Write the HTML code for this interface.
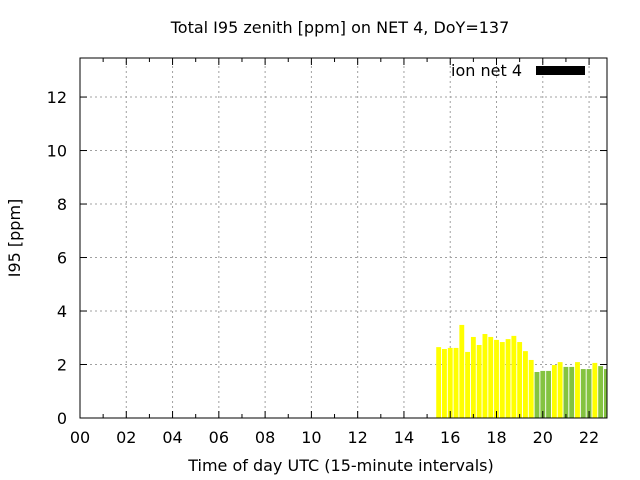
<!DOCTYPE html>
<html><head><meta charset="utf-8"><style>
html,body{margin:0;padding:0;background:#fff;}
svg{display:block;font-family:"DejaVu Sans","Liberation Sans",sans-serif;}
</style></head><body>
<svg id="chart" width="640" height="480" viewBox="0 0 640 480">
<rect x="0" y="0" width="640" height="480" fill="#fff"/>
<text x="340" y="33" font-size="16" text-anchor="middle">Total I95 zenith [ppm] on NET 4, DoY=137</text>
<g id="grid"></g>
<g id="bars"></g>
<g id="axes"></g>
<text x="20" y="238" font-size="16" text-anchor="middle" transform="rotate(-90 20 238)">I95 [ppm]</text>
<text x="341" y="471" font-size="16" text-anchor="middle">Time of day UTC (15-minute intervals)</text>
<g>
<text x="522" y="76" font-size="16" text-anchor="end">ion net 4</text>
<rect x="536" y="66" width="49" height="9" fill="#000"/>
</g>
</svg>
<script>
const hours = [15.5,15.75,16,16.25,16.5,16.75,17,17.25,17.5,17.75,18,18.25,18.5,18.75,19,19.25,19.5,19.75,20,20.25,20.5,20.75,21,21.25,21.5,21.75,22,22.25,22.5,22.75];
const values = [2.65,2.58,2.62,2.62,3.48,2.47,3.03,2.73,3.14,3.03,2.92,2.84,2.95,3.07,2.84,2.50,2.17,1.72,1.76,1.76,1.98,2.09,1.91,1.91,2.09,1.83,1.83,2.06,1.94,1.83];
const colorClass = ['y','y','y','y','y','y','y','y','y','y','y','y','y','y','y','y','y','g','g','g','y','y','g','g','y','g','g','y','g','g'];
const xTicks = ['00','02','04','06','08','10','12','14','16','18','20','22'];
const yTicks = [0,2,4,6,8,10,12];

const X0=80, X1=607, Y0=418, Y1=58;
const xMax=22.775, yMax=13.46;
const xs = h => X0 + h/xMax*(X1-X0);
const ys = v => Y0 - v/yMax*(Y0-Y1);
const NS='http://www.w3.org/2000/svg';
function mk(tag, attrs, parent){const e=document.createElementNS(NS,tag);for(const k in attrs)e.setAttribute(k,attrs[k]);parent.appendChild(e);return e;}
const grid=document.getElementById('grid'), bars=document.getElementById('bars'), axes=document.getElementById('axes');

yTicks.forEach(v=>{
  const y=ys(v);
  if(v>0){const l=mk('line',{x1:X0,x2:X1,y1:y,y2:y,stroke:'#a0a0a0','stroke-dasharray':'2,3'},grid);
  
  }
  mk('line',{x1:X0,x2:X0+7,y1:y,y2:y,stroke:'#000'},axes);
  mk('line',{x1:X1,x2:X1-7,y1:y,y2:y,stroke:'#000'},axes);
  const t=mk('text',{x:X0-13,y:y+6,'font-size':16,'text-anchor':'end'},axes);
  t.textContent=v;
  
  
});
xTicks.forEach(s=>{
  const x=xs(parseInt(s,10));
  if(x>X0){const l=mk('line',{x1:x,x2:x,y1:Y0,y2:Y1,stroke:'#a0a0a0','stroke-dasharray':'2,3'},grid);
  
  }
  mk('line',{x1:x,x2:x,y1:Y0,y2:Y0-7,stroke:'#000'},axes);
  mk('line',{x1:x,x2:x,y1:Y1,y2:Y1+7,stroke:'#000'},axes);
  const t=mk('text',{x:x,y:Y0+25,'font-size':16,'text-anchor':'middle'},axes);
  t.textContent=s;
  
  
});
for(let h=1;h<23;h+=2){const x=xs(h);
  mk('line',{x1:x,x2:x,y1:Y0,y2:Y0-4,stroke:'#000'},axes);
  mk('line',{x1:x,x2:x,y1:Y1,y2:Y1+4,stroke:'#000'},axes);}
const bw=0.21*(X1-X0)/xMax;
hours.forEach((h,i)=>{
  const cx=xs(h); const left=cx-bw/2; const right=Math.min(cx+bw/2,X1);
  const y=ys(values[i]);
  const r=mk('rect',{x:left,y:y,width:Math.max(0,right-left),height:Y0-y,fill:colorClass[i]==='y'?'#ffff00':'#84c341'},bars);
  
  
});
const frame=mk('rect',{x:X0,y:Y1,width:X1-X0,height:Y0-Y1,fill:'none',stroke:'#000','stroke-width':1},axes);


</script>
</body></html>
